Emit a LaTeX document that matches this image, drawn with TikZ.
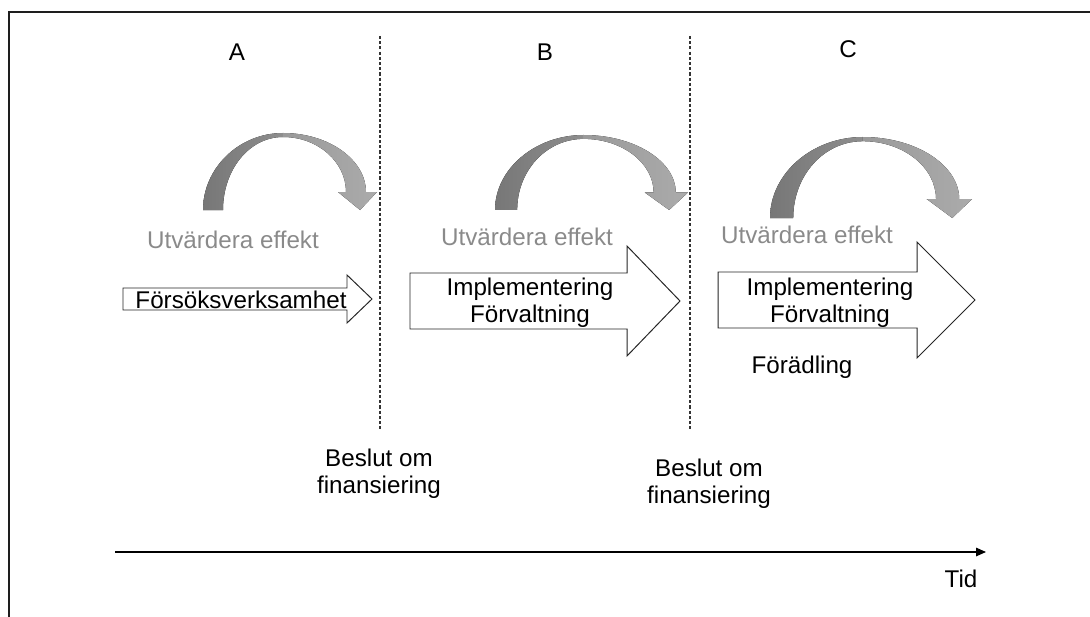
\documentclass[tikz,border=0pt]{standalone}
\usepackage{fontspec}
\setmainfont{Liberation Sans}
\usetikzlibrary{arrows.meta}
\definecolor{ArcDark}{HTML}{777777}
\definecolor{ArcMid}{HTML}{8E8E8E}
\definecolor{ArcLight}{HTML}{ABABAB}
\definecolor{EvalGray}{HTML}{8A8A8A}
\definecolor{FrameBlack}{HTML}{1E1E1E}

\newcommand{\evalarc}[4]{%
    \begin{scope}[shift={(#1,#2)},xscale=#3/174,yscale=#4/77]
        \fill[left color=ArcDark,right color=ArcMid] (0,77) .. controls (0,35) and (36,0) .. (80,0) -- (80,4) .. controls (46,4) and (20,37) .. (20,77) -- cycle;
        \fill[left color=ArcMid!60!ArcLight,right color=ArcLight] (80,0) .. controls (126,0) and (163,27) .. (163,59) -- (174,59) -- (157,77) -- (135,59) -- (143,59) .. controls (143,29) and (115,4) .. (80,4) -- cycle;
    \end{scope}}
\newcommand{\blockarrow}[7]{%
    \draw[blockline] (#1,#2) -- (#4,#2) -- (#4,#5) -- (#7,{(#2+#3)/2}) -- (#4,#6) -- (#4,#3) -- (#1,#3) -- cycle;}

\begin{document}
\begin{tikzpicture}[x=0.025cm,y=-0.025cm,
    every node/.style={font=\fontsize{17.2pt}{19.4pt}\selectfont},
    evaltext/.style={text=EvalGray},
    blockline/.style={draw=black!85,fill=white,line width=0.7pt},
    divider/.style={dash pattern=on 2.2pt off 1.5pt,line width=0.75pt,draw=black!80}]
    \useasboundingbox (0,0) rectangle (1090,617);
    \draw[FrameBlack,line width=1.5pt] (1090,12) -- (9,12) -- (9,617);

    \coordinate (divAB top) at (380,36);
    \coordinate (divAB bot) at (380,430);
    \coordinate (divBC top) at (690,36);
    \coordinate (divBC bot) at (690,430);
    \draw[divider] (divAB top) -- (divAB bot);
    \draw[divider] (divBC top) -- (divBC bot);

    \node[anchor=base] (lblA) at (237,61) {A};
    \node[anchor=base] (lblB) at (545,61) {B};
    \node[anchor=base] (lblC) at (848,58) {C};

    \evalarc{203}{133}{174}{77}
    \evalarc{495}{135}{193}{75}
    \evalarc{770}{137}{202}{81}

    \node[evaltext,anchor=base] (evalA) at (233,248) {Utvärdera effekt};
    \node[evaltext,anchor=base] (evalB) at (527,245) {Utvärdera effekt};
    \node[evaltext,anchor=base] (evalC) at (807,243) {Utvärdera effekt};

    \blockarrow{123}{288}{310}{347}{275}{323}{372}
    \blockarrow{410}{273}{329}{627}{246}{356}{680}
    \blockarrow{718}{272}{328}{917}{242}{358}{975}

    \node[anchor=base] (trialA) at (241,308) {Försöksverksamhet};
    \node[align=center] (implB) at (530,303) {Implementering\\Förvaltning};
    \node[align=center] (implC) at (830,303) {Implementering\\Förvaltning};
    \node[anchor=base] (refineC) at (802,373) {Förädling};

    \node[align=center] (decisionAB) at (379,474) {Beslut om\\finansiering};
    \node[align=center] (decisionBC) at (709,484) {Beslut om\\finansiering};

    \coordinate (axis start) at (115,552);
    \coordinate (axis end) at (986,552);
    \draw[line width=0.9pt,-{Triangle[length=7pt,width=6pt]}] (axis start) -- (axis end);
    \node[anchor=base] (timeLabel) at (961,587) {Tid};
\end{tikzpicture}
\end{document}
